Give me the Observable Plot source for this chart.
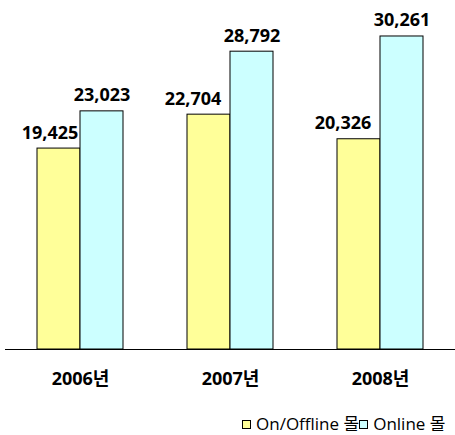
<!DOCTYPE html>
<html><head><meta charset="utf-8">
<script src="https://cdn.jsdelivr.net/npm/d3@7"></script>
<script src="https://cdn.jsdelivr.net/npm/@observablehq/plot@0.6"></script>
<style>
body{margin:0;background:#fff;font-family:"Open Sans","Noto Sans CJK KR",sans-serif}
#legend{display:flex;align-items:center;height:30px;margin-top:4px;padding-left:242px;font-size:17px;line-height:20px;color:#000;white-space:nowrap}
.sw{width:7px;height:7px;border:1px solid #000;display:inline-block;margin-right:5px}
</style></head><body><div id="chart"></div><div id="legend"></div>
<script>
const years = ["2006년", "2007년", "2008년"];
const series = ["On/Offline 몰", "Online 몰"];
const onOffline = [19425, 22704, 20326];
const online = [23023, 28792, 30261];
const colors = ["#FFFF99", "#CCFFFF"];

const data = years.flatMap((y, i) => [
  {year: y, series: series[0], value: onOffline[i]},
  {year: y, series: series[1], value: online[i]}
]);
const fmt = d3.format(",");
const font = {fontWeight: "bold", fontSize: 18, fill: "#000"};

const chart = Plot.plot({
  width: 455,
  height: 405,
  marginLeft: 4,
  marginRight: 0,
  marginTop: 18,
  marginBottom: 56,
  style: {fontFamily: '"Open Sans","Noto Sans CJK KR",sans-serif', background: "#fff"},
  fx: {domain: years, padding: 0, label: null},
  x: {domain: series, paddingInner: 0, paddingOuter: 0.744, axis: null},
  y: {domain: [0, 32000], axis: null},
  color: {domain: series, range: colors},
  marks: [
    Plot.barY(data, {fx: "year", x: "series", y: "value", fill: "series", stroke: "#000", strokeWidth: 1}),
    Plot.ruleY([0], {stroke: "#000", strokeWidth: 1}),
    Plot.text(data.filter(d => d.series === series[0] && d.year === years[0]), {fx: "year", x: "series", y: "value", text: d => fmt(d.value), lineAnchor: "bottom", dy: -10, dx: -9, ...font}),
    Plot.text(data.filter(d => d.series === series[0] && d.year !== years[0]), {fx: "year", x: "series", y: "value", text: d => fmt(d.value), lineAnchor: "bottom", dy: -10, dx: -16, ...font}),
    Plot.text(data.filter(d => d.series === series[1]), {fx: "year", x: "series", y: "value", text: d => fmt(d.value), lineAnchor: "bottom", dy: -10, ...font}),
    Plot.axisFx({anchor: "bottom", tickSize: 0, tickPadding: 23, fontSize: 18, fontWeight: "bold", label: null})
  ]
});
document.getElementById("chart").appendChild(chart);

const legend = document.getElementById("legend");
series.forEach((s, i) => {
  const sw = document.createElement("span");
  sw.className = "sw";
  sw.style.background = colors[i];
  const t = document.createElement("span");
  t.textContent = s;
  legend.appendChild(sw);
  legend.appendChild(t);
});
</script></body></html>
